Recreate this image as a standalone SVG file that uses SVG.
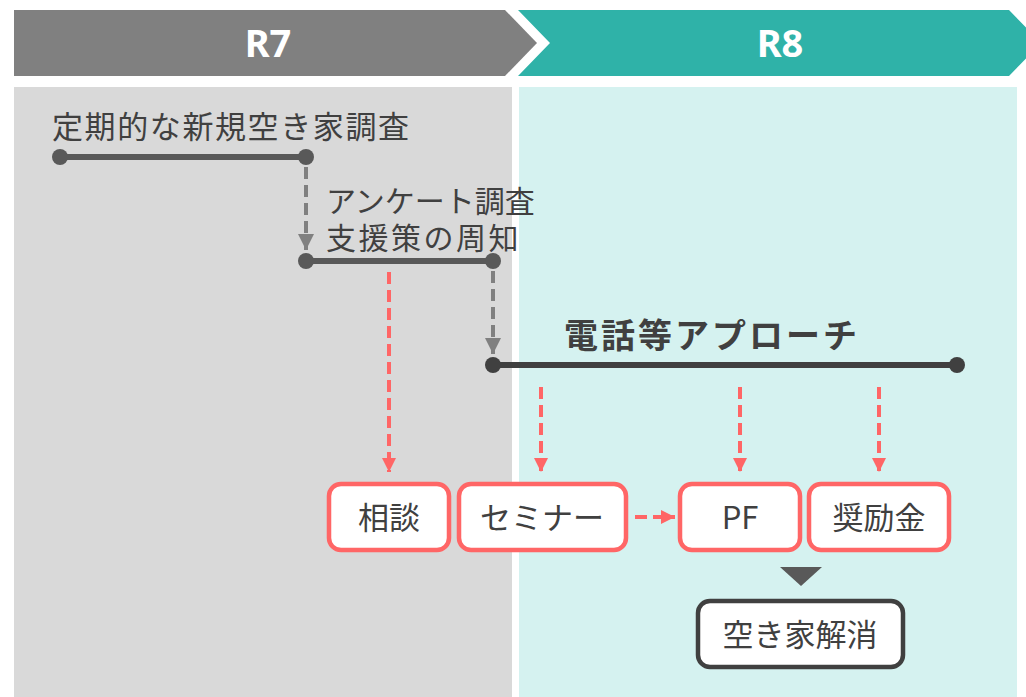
<svg xmlns="http://www.w3.org/2000/svg" width="1026" height="697" viewBox="0 0 1026 697">
<defs>
<style>
.t{font-family:"Noto Sans CJK JP","Noto Sans",sans-serif;fill:#404040}
.tc{font-family:"Liberation Sans","Noto Sans CJK JP",sans-serif;fill:#404040}
.hd{font-family:"Noto Sans","Noto Sans CJK JP",sans-serif;font-weight:bold;fill:#ffffff;font-size:38px;text-anchor:middle}
.bx{fill:#ffffff;stroke:#ff6666;stroke-width:4.5}
.bk{fill:#ffffff;stroke:#404040;stroke-width:4.5}
.tl{stroke:#595959;stroke-width:6;fill:none}
.gd{stroke:#808080;stroke-width:4;stroke-dasharray:12 6;fill:none}
.rd{stroke:#ff6666;stroke-width:4;stroke-dasharray:12 6;fill:none}
.bt{font-size:31px;text-anchor:middle}
</style>
<marker id="ag" viewBox="0 0 10 10" refX="10" refY="5" markerWidth="4" markerHeight="4" markerUnits="strokeWidth" orient="auto"><path d="M0,0 L10,5 L0,10 z" fill="#808080"/></marker>
<marker id="ar" viewBox="0 0 10 10" refX="10" refY="5" markerWidth="3.5" markerHeight="3.5" markerUnits="strokeWidth" orient="auto"><path d="M0,0 L10,5 L0,10 z" fill="#ff6666"/></marker>
</defs>
<rect x="0" y="0" width="1026" height="697" fill="#ffffff"/>
<rect x="14" y="87" width="498" height="610" fill="#d9d9d9"/>
<rect x="519" y="87" width="498" height="610" fill="#d5f2f0"/>
<g id="hdr-r7">
<polygon points="14,10 505,10 537,43 505,76 14,76" fill="#808080"/>
<text class="hd" x="268" y="57">R7</text>
</g>
<g id="hdr-r8">
<polygon points="518,10 1009,10 1041,43 1009,76 518,76 550,43" fill="#2fb2a8"/>
<text class="hd" x="780" y="57">R8</text>
</g>
<g id="timeline1">
<text class="t" x="52" y="138" font-size="31" letter-spacing="1.6">定期的な新規空き家調査</text>
<line class="tl" x1="60" y1="157" x2="306" y2="157"/>
<circle cx="60" cy="157" r="8" fill="#595959"/>
<circle cx="306" cy="157" r="8" fill="#595959"/>
</g>
<g id="timeline2">
<text class="tc" font-size="30" x="326" y="212">アンケート調査</text>
<text class="tc" font-size="30" x="326" y="249" letter-spacing="2.5">支援策の周知</text>
<line class="tl" x1="306" y1="261" x2="493" y2="261"/>
<circle cx="306" cy="261" r="8" fill="#595959"/>
<circle cx="493" cy="261" r="8" fill="#595959"/>
</g>
<g id="timeline3">
<text class="t" x="564" y="348" font-size="34" font-weight="bold" letter-spacing="3">電話等アプローチ</text>
<line x1="493" y1="365" x2="957" y2="365" stroke="#404040" stroke-width="6"/>
<circle cx="493" cy="365" r="8" fill="#404040"/>
<circle cx="957" cy="365" r="8" fill="#404040"/>
</g>
<g id="connectors">
<line class="gd" x1="306" y1="167" x2="306" y2="250" marker-end="url(#ag)"/>
<line class="gd" x1="493" y1="271" x2="493" y2="354" marker-end="url(#ag)"/>
<line class="rd" x1="389" y1="272" x2="389" y2="472" marker-end="url(#ar)"/>
<line class="rd" x1="541" y1="387" x2="541" y2="472" marker-end="url(#ar)"/>
<line class="rd" x1="740" y1="387" x2="740" y2="472" marker-end="url(#ar)"/>
<line class="rd" x1="879" y1="387" x2="879" y2="472" marker-end="url(#ar)"/>
<line class="rd" x1="635" y1="517" x2="675" y2="517" marker-end="url(#ar)"/>
<polygon points="780,567 822,567 801,586" fill="#595959"/>
</g>
<g id="node-soudan">
<rect class="bx" x="329" y="484" width="120" height="66" rx="12"/>
<text class="t bt" x="389" y="529">相談</text>
</g>
<g id="node-seminar">
<rect class="bx" x="459" y="484" width="167" height="66" rx="12"/>
<text class="t bt" x="542" y="529">セミナー</text>
</g>
<g id="node-pf">
<rect class="bx" x="680" y="484" width="120" height="66" rx="12"/>
<text class="t bt" x="740" y="529">PF</text>
</g>
<g id="node-shoreikin">
<rect class="bx" x="809" y="484" width="140" height="66" rx="12"/>
<text class="t bt" x="879" y="529">奨励金</text>
</g>
<g id="node-kaisho">
<rect class="bk" x="698" y="601" width="205" height="66" rx="12"/>
<text class="t bt" x="800" y="646" font-size="32">空き家解消</text>
</g>
</svg>
